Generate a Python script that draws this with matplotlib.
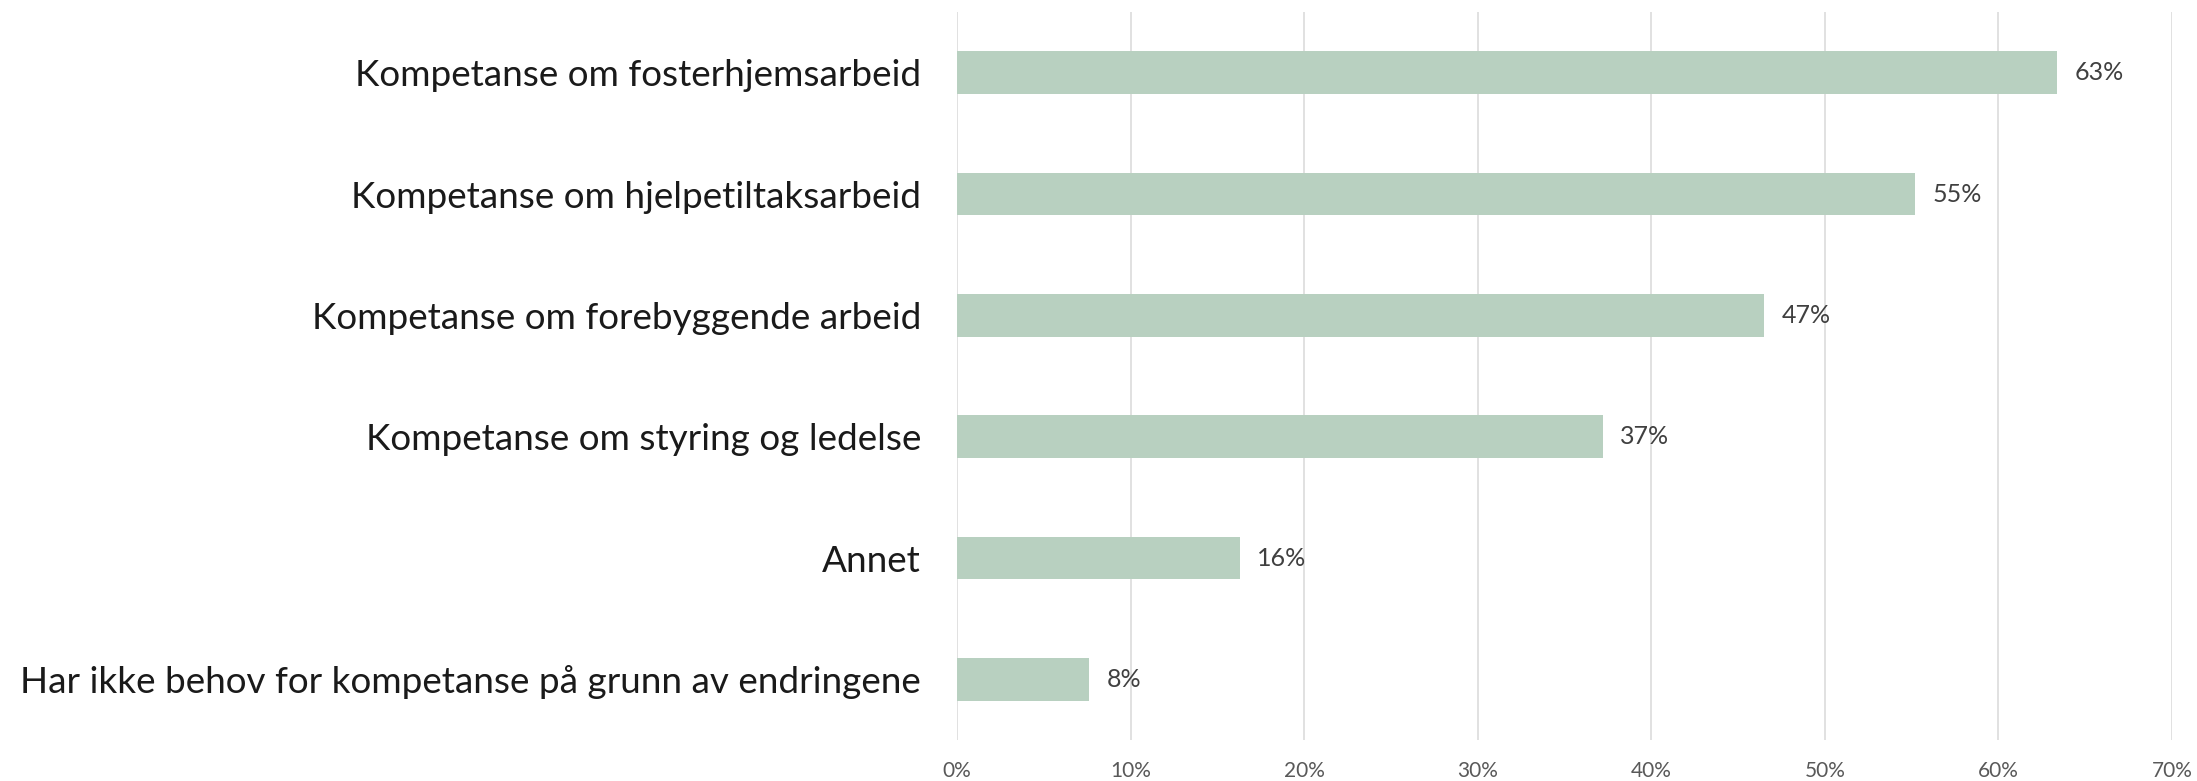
import matplotlib
matplotlib.use("Agg")
import matplotlib.pyplot as plt
from matplotlib.ticker import PercentFormatter

categories = [
    "Kompetanse om fosterhjemsarbeid",
    "Kompetanse om hjelpetiltaksarbeid",
    "Kompetanse om forebyggende arbeid",
    "Kompetanse om styring og ledelse",
    "Annet",
    "Har ikke behov for kompetanse på grunn av endringene",
]
values = [63.4, 55.2, 46.5, 37.2, 16.3, 7.6]
value_labels = ["63%", "55%", "47%", "37%", "16%", "8%"]
x_ticks = [0, 10, 20, 30, 40, 50, 60, 70]

BAR = "#b8d0c0"
GRID = "#d9d9d9"

plt.rcParams["font.family"] = ["Lato", "DejaVu Sans"]

fig = plt.figure(figsize=(21.97, 7.81), dpi=100)
ax = fig.add_axes([957 / 2197, 1 - 740 / 781, (2172 - 957) / 2197, (740 - 12) / 781])

y = list(range(len(categories)))
ax.barh(y, values, height=0.35, color=BAR, zorder=3)
for yi, v, lab in zip(y, values, value_labels):
    ax.text(v + 1.0, yi, lab, va="center", ha="left", fontsize=18, color="#404040")

ax.set_ylim(len(categories) - 0.5, -0.5)
ax.set_xlim(0, 70)
ax.set_xticks(x_ticks)
ax.xaxis.set_major_formatter(PercentFormatter(decimals=0))
ax.set_yticks(y)
ax.set_yticklabels(categories, fontsize=26.6, color="#1a1a1a")
ax.tick_params(axis="y", length=0, pad=26)
ax.tick_params(axis="x", length=0, pad=15, labelsize=15, labelcolor="#595959")
ax.grid(True, axis="x", color=GRID, linewidth=1.1, zorder=0)
for s in ax.spines.values():
    s.set_visible(False)

fig.savefig("out.png", dpi=100)
